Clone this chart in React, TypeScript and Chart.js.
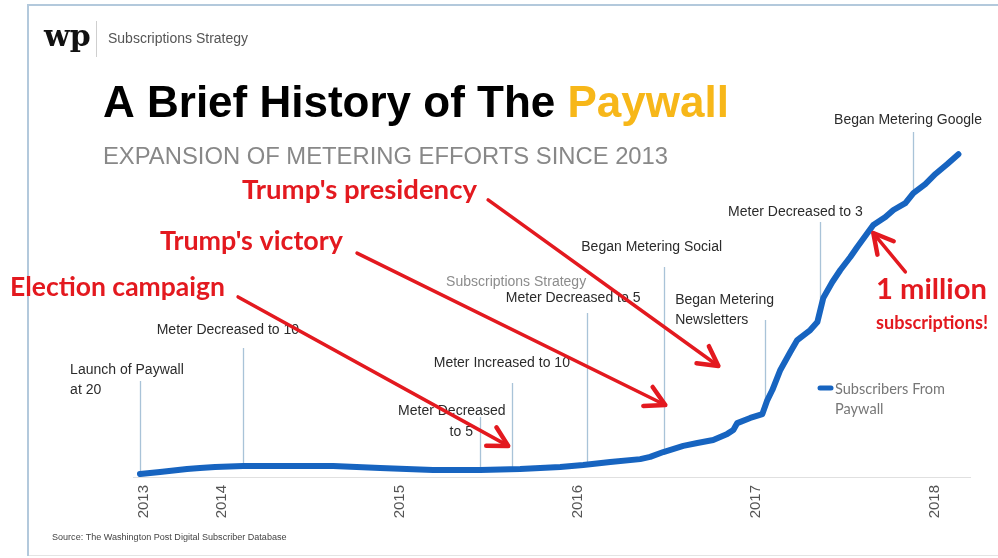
import React, { useEffect, useRef } from "react";
import { Chart, registerables } from "chart.js";

Chart.register(...registerables);

// ---- Data ----
const subscriberDates = [
  2013.539, 2013.652, 2013.803, 2013.876, 2013.961, 2014.118, 2014.382, 2014.624,
  2014.888, 2015.185, 2015.449, 2015.674, 2015.899, 2016.028, 2016.18, 2016.348,
  2016.404, 2016.478, 2016.59, 2016.669, 2016.758, 2016.837, 2016.871, 2016.893,
  2016.966, 2017.034, 2017.062, 2017.09, 2017.135, 2017.191, 2017.23, 2017.303,
  2017.343, 2017.376, 2017.427, 2017.472, 2017.528, 2017.567, 2017.612, 2017.657,
  2017.725, 2017.77, 2017.837, 2017.882, 2017.949, 2018.006, 2018.073, 2018.135,
];
const subscribersThousands = [
  12, 20, 33, 37, 41, 45, 45, 45,
  37, 29, 29, 33, 41, 49, 61, 73,
  82, 102, 127, 139, 151, 176, 192, 220,
  241, 257, 314, 355, 437, 510, 559, 600,
  633, 731, 796, 845, 898, 939, 984, 1029,
  1061, 1090, 1118, 1159, 1196, 1237, 1278, 1318,
];

const tickValues = [2013.56, 2014, 2015, 2016, 2017, 2018];
const tickLabels = ["2013", "2014", "2015", "2016", "2017", "2018"];

const eventDates = [2013.54, 2014.12, 2015.45, 2015.63, 2016.05, 2016.48, 2017.05, 2017.36, 2017.88];
const eventLabels = [
  ["Launch of Paywall", "at 20"],
  ["Meter Decreased to 10"],
  ["Meter Decreased", "to 5"],
  ["Meter Increased to 10"],
  ["Subscriptions Strategy", "Meter Decreased to 5"],
  ["Began Metering Social"],
  ["Began Metering", "Newsletters"],
  ["Meter Decreased to 3"],
  ["Began Metering Google"],
];

const calloutTexts = ["Election campaign", "Trump's victory", "Trump's presidency"];
const arrowTailDates = [2014.09, 2014.758, 2015.494, 2017.837];
const arrowTailValues = [735, 914, 1131, 837];
const arrowHeadDates = [2015.607, 2016.489, 2016.787, 2017.657];
const arrowHeadValues = [127, 294, 453, 996];
const milestoneTexts = ["1 million", "subscriptions!"];

const seriesLabel = ["Subscribers From", "Paywall"];

// ---- Layout / style (pixels) ----
const BLUE = "#1764c0";
const RED = "#e3191f";
const EVENT_LINE = "#a9c3d8";
const SANS = '"Liberation Sans", Arial, Helvetica, sans-serif';
const CAL = 'Lato, "Open Sans", sans-serif';

const eventLayout = [
  { top: 381, align: "left", dx: [-70, -70], ys: [370, 390] },
  { top: 348, align: "center", dx: [-15.5], ys: [330] },
  { top: 417, align: "center", dx: [-28.5, -19], ys: [411, 432] },
  { top: 383, align: "center", dx: [-10.5], ys: [363] },
  { top: 313, align: "center", dx: [-71, -14], ys: [282, 298], muted: [true, false] },
  { top: 267, align: "center", dx: [-12], ys: [247] },
  { top: 320, align: "left", dx: [-90, -90], ys: [300, 320] },
  { top: 222, align: "center", dx: [-25], ys: [212] },
  { top: 132, align: "center", dx: [-5], ys: [120] },
];
const calloutLayout = [
  { left: 10, y: 287, w: 215 },
  { left: 160, y: 241, w: 183 },
  { left: 242, y: 190, w: 235 },
];
const milestoneLayout = [
  { left: 876, y: 290, w: 111 },
  { left: 876, y: 323, w: 112 },
];

function interp(x: number): number {
  const xs = subscriberDates;
  const ys = subscribersThousands;
  if (x <= xs[0]) return ys[0];
  for (let i = 1; i < xs.length; i++) {
    if (x <= xs[i]) {
      const t = (x - xs[i - 1]) / (xs[i] - xs[i - 1]);
      return ys[i - 1] + t * (ys[i] - ys[i - 1]);
    }
  }
  return ys[ys.length - 1];
}

function fitSize(ctx: CanvasRenderingContext2D, text: string, weight: string, family: string, w: number) {
  ctx.font = `${weight} 100px ${family}`;
  const m = ctx.measureText(text).width;
  return (100 * w) / m;
}

function arrow(ctx: CanvasRenderingContext2D, x1: number, y1: number, x2: number, y2: number) {
  const ang = Math.atan2(y2 - y1, x2 - x1);
  const hl = 22;
  ctx.save();
  ctx.strokeStyle = RED;
  ctx.lineWidth = 3.5;
  ctx.lineCap = "round";
  ctx.lineJoin = "round";
  ctx.beginPath();
  ctx.moveTo(x1, y1);
  ctx.lineTo(x2, y2);
  ctx.stroke();
  ctx.lineWidth = 4.5;
  ctx.beginPath();
  ctx.moveTo(x2 - hl * Math.cos(ang - 0.5), y2 - hl * Math.sin(ang - 0.5));
  ctx.lineTo(x2, y2);
  ctx.lineTo(x2 - hl * Math.cos(ang + 0.5), y2 - hl * Math.sin(ang + 0.5));
  ctx.stroke();
  ctx.restore();
}

export default function App() {
  const ref = useRef<HTMLCanvasElement>(null);

  useEffect(() => {
    const canvas = ref.current;
    if (!canvas) return;

    const overlay = {
      id: "overlay",
      beforeDatasetsDraw(chart: any) {
        const ctx: CanvasRenderingContext2D = chart.ctx;
        const xs = chart.scales.x;
        const ys = chart.scales.y;
        ctx.save();
        ctx.strokeStyle = EVENT_LINE;
        ctx.lineWidth = 1.3;
        eventDates.forEach((d, i) => {
          const x = Math.round(xs.getPixelForValue(d)) + 0.5;
          const yb = ys.getPixelForValue(interp(d));
          ctx.beginPath();
          ctx.moveTo(x, eventLayout[i].top);
          ctx.lineTo(x, yb);
          ctx.stroke();
        });
        ctx.restore();
      },
      afterDatasetsDraw(chart: any) {
        const ctx: CanvasRenderingContext2D = chart.ctx;
        const xs = chart.scales.x;
        const ys = chart.scales.y;
        ctx.save();

        // frame
        ctx.strokeStyle = "#b3c9dc";
        ctx.lineWidth = 2;
        ctx.beginPath();
        ctx.moveTo(1000, 5);
        ctx.lineTo(28, 5);
        ctx.lineTo(28, 556);
        ctx.stroke();
        ctx.strokeStyle = "#e4e4e4";
        ctx.lineWidth = 1;
        ctx.beginPath();
        ctx.moveTo(29, 555.5);
        ctx.lineTo(1000, 555.5);
        ctx.stroke();

        // header
        ctx.textBaseline = "middle";
        ctx.fillStyle = "#111";
        ctx.font = `bold 30px "DejaVu Serif", serif`;
        ctx.textAlign = "left";
        ctx.fillText("wp", 44, 38);
        ctx.strokeStyle = "#cfcfcf";
        ctx.lineWidth = 1;
        ctx.beginPath();
        ctx.moveTo(96.5, 21);
        ctx.lineTo(96.5, 57);
        ctx.stroke();
        ctx.fillStyle = "#555";
        ctx.font = `14px ${SANS}`;
        ctx.fillText("Subscriptions Strategy", 108, 39);

        // title
        ctx.textBaseline = "alphabetic";
        ctx.font = `bold 44px ${SANS}`;
        ctx.fillStyle = "#000";
        const t1 = "A Brief History of The ";
        ctx.fillText(t1, 103, 117);
        const w1 = ctx.measureText(t1).width;
        ctx.fillStyle = "#f7b719";
        ctx.fillText("Paywall", 103 + w1, 117);

        ctx.font = `23.8px ${SANS}`;
        ctx.fillStyle = "#888";
        ctx.fillText("EXPANSION OF METERING EFFORTS SINCE 2013", 103, 164);

        // event labels
        ctx.textBaseline = "middle";
        ctx.font = `14px ${SANS}`;
        eventDates.forEach((d, i) => {
          const x = xs.getPixelForValue(d);
          const lay: any = eventLayout[i];
          ctx.textAlign = lay.align;
          eventLabels[i].forEach((txt, j) => {
            ctx.fillStyle = lay.muted && lay.muted[j] ? "#8c8c8c" : "#2b2b2b";
            ctx.fillText(txt, x + lay.dx[j], lay.ys[j]);
          });
        });

        // arrows
        arrowTailDates.forEach((d, i) => {
          arrow(
            ctx,
            xs.getPixelForValue(d),
            ys.getPixelForValue(arrowTailValues[i]),
            xs.getPixelForValue(arrowHeadDates[i]),
            ys.getPixelForValue(arrowHeadValues[i])
          );
        });

        // red callouts
        ctx.fillStyle = RED;
        ctx.textAlign = "left";
        calloutTexts.forEach((txt, i) => {
          const L = calloutLayout[i];
          const fs = fitSize(ctx, txt, "bold", CAL, L.w);
          ctx.font = `bold ${fs}px ${CAL}`;
          ctx.fillText(txt, L.left, L.y);
        });
        milestoneTexts.forEach((txt, i) => {
          const L = milestoneLayout[i];
          const fs = fitSize(ctx, txt, "bold", CAL, L.w);
          ctx.font = `bold ${fs}px ${CAL}`;
          ctx.fillText(txt, L.left, L.y);
        });

        // legend
        ctx.strokeStyle = BLUE;
        ctx.lineWidth = 5;
        ctx.lineCap = "round";
        ctx.beginPath();
        ctx.moveTo(820, 388);
        ctx.lineTo(831, 388);
        ctx.stroke();
        const lfs = fitSize(ctx, seriesLabel[0], "normal", CAL, 110);
        ctx.font = `${lfs}px ${CAL}`;
        ctx.fillStyle = "#777";
        ctx.fillText(seriesLabel[0], 835, 389);
        ctx.fillText(seriesLabel[1], 835, 409);

        // source
        const sfs = fitSize(ctx, "Source: The Washington Post Digital Subscriber Database", "normal", SANS, 235);
        ctx.font = `${sfs}px ${SANS}`;
        ctx.fillStyle = "#444";
        ctx.fillText("Source: The Washington Post Digital Subscriber Database", 52, 537);

        ctx.restore();
      },
    };

    const chart = new Chart(canvas, {
      type: "line",
      data: {
        datasets: [
          {
            label: "Subscribers From Paywall",
            data: subscriberDates.map((d, i) => ({ x: d, y: subscribersThousands[i] })),
            borderColor: BLUE,
            backgroundColor: BLUE,
            borderWidth: 6,
            pointRadius: 0,
            tension: 0,
            borderCapStyle: "round",
            borderJoinStyle: "round",
            fill: false,
          },
        ],
      },
      options: {
        responsive: false,
        animation: false,
        devicePixelRatio: 1,
        layout: { padding: { left: 133, right: 28, top: 100, bottom: 0 } },
        plugins: {
          legend: { display: false },
          tooltip: { enabled: false },
          title: { display: false },
        },
        scales: {
          x: {
            type: "linear",
            min: 2013.5,
            max: 2018.2,
            grid: { display: false, drawTicks: false },
            border: { display: true, color: "#e0e0e0", width: 1 },
            afterBuildTicks: (s: any) => {
              s.ticks = tickValues.map((v) => ({ value: v }));
            },
            afterFit: (s: any) => {
              s.height = 81;
            },
            ticks: {
              autoSkip: false,
              maxRotation: 90,
              minRotation: 90,
              padding: 8,
              color: "#555",
              font: { family: SANS, size: 15 },
              callback: (_v: any, i: number) => tickLabels[i],
            },
          },
          y: { display: false, min: 0, max: 1539 },
        },
      } as any,
      plugins: [overlay],
    });

    return () => chart.destroy();
  }, []);

  return (
    <div style={{ position: "absolute", left: 0, top: 0, width: 998, height: 558, background: "#fff" }}>
      <canvas ref={ref} width={998} height={558} style={{ display: "block" }} />
    </div>
  );
}
